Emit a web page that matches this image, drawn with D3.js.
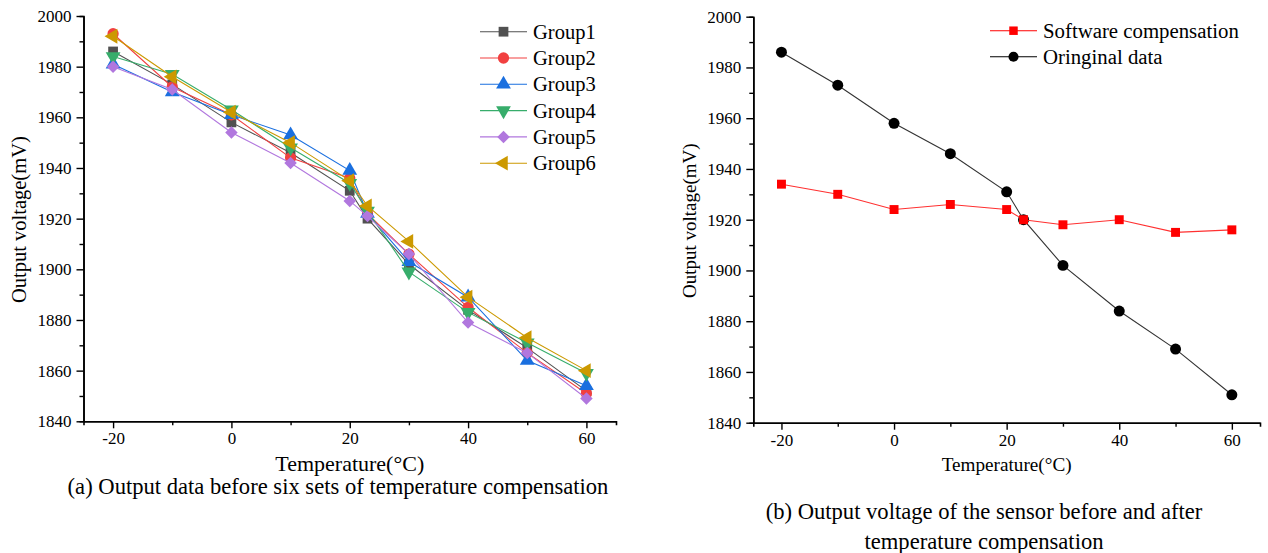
<!DOCTYPE html>
<html lang="en">
<head>
    <meta charset="UTF-8">
    <title>Temperature compensation</title>
    <script src="https://d3js.org/d3.v7.min.js"></script>
    <style>
        body { margin: 0; background: #fff; }
        svg text { font-family: "Liberation Serif", "Times New Roman", serif; fill: #000; }
    </style>
</head>
<body>

<svg id="chart" width="1268" height="553"></svg>

<script>
    // temperatures (x values), shared by both panels
    const temps = [-20, -10, 0, 10, 20, 23, 30, 40, 50, 60];

    // panel (a): six groups
    const group1 = [1986, 1973, 1958, 1946, 1931, 1920, 1902, 1884, 1869, 1852];
    const group2 = [1993, 1972, 1961, 1944, 1936, 1922, 1906, 1885, 1867, 1851];
    const group3 = [1981, 1970, 1961, 1953, 1939, 1922, 1903, 1889, 1864, 1854];
    const group4 = [1984, 1977, 1963, 1948, 1934, 1923, 1899, 1883, 1871, 1859];
    const group5 = [1980, 1971, 1954, 1942, 1927, 1921, 1906, 1879, 1867, 1849];
    const group6 = [1992, 1976, 1962, 1950, 1935, 1925, 1911, 1889, 1873, 1860];
    const groupNames = ["Group1", "Group2", "Group3", "Group4", "Group5", "Group6"];

    // panel (b)
    const compensated = [1934, 1930, 1924, 1926, 1924, 1920, 1918, 1920, 1915, 1916];
    const original    = [1986, 1973, 1958, 1946, 1931, 1920, 1902, 1884, 1869, 1851];
    const seriesNamesB = ["Software compensation", "Oringinal data"];

    // tick labels
    const xTicks = [-20, 0, 20, 40, 60];
    const xMinor = [-10, 10, 30, 50];
    const yTicks = [1840, 1860, 1880, 1900, 1920, 1940, 1960, 1980, 2000];
    const yMinor = [1850, 1870, 1890, 1910, 1930, 1950, 1970, 1990];

    const svg = d3.select("#chart");

    // plain integer labels with an ascii hyphen, like the original
    const fmt = d => String(d);

    // marker shapes (Origin style)
    const shapes = {
        square:   { type: d3.symbolSquare,   rot: 0 },
        circle:   { type: d3.symbolCircle,   rot: 0 },
        up:       { type: d3.symbolTriangle, rot: 0 },
        down:     { type: d3.symbolTriangle, rot: 180 },
        diamond:  { type: d3.symbolSquare,   rot: 45 },
        left:     { type: d3.symbolTriangle, rot: -90 }
    };

    function marker(g, shape, size, color, x, y) {
        const s = shapes[shape];
        g.append("path")
            .attr("d", d3.symbol().type(s.type).size(size)())
            .attr("transform", `translate(${x},${y}) rotate(${s.rot})`)
            .attr("fill", color);
    }

    // draws axes of one panel and returns its scales
    function drawAxes(cfg) {
        const x = d3.scaleLinear().domain([-25, 65]).range([cfg.x0, cfg.x1]);
        const y = d3.scaleLinear().domain([1840, 2000]).range([cfg.y0, cfg.y1]);

        const g = svg.append("g");

        // minor ticks first
        g.append("g")
            .attr("transform", `translate(0,${cfg.y0})`)
            .call(d3.axisBottom(x).tickValues(xMinor).tickSize(4).tickFormat(""));
        g.append("g")
            .attr("transform", `translate(${cfg.x0},0)`)
            .call(d3.axisLeft(y).tickValues(yMinor).tickSize(4).tickFormat(""));

        g.append("g")
            .attr("transform", `translate(0,${cfg.y0})`)
            .call(d3.axisBottom(x).tickValues(xTicks).tickFormat(fmt)
                .tickSize(7).tickPadding(4).tickSizeOuter(0));
        g.append("g")
            .attr("transform", `translate(${cfg.x0},0)`)
            .call(d3.axisLeft(y).tickValues(yTicks).tickFormat(fmt)
                .tickSize(7).tickPadding(5).tickSizeOuter(0));

        g.selectAll("g").attr("font-family", '"Liberation Serif", "Times New Roman", serif');
        g.selectAll(".domain").attr("stroke", "#000").attr("stroke-width", 1.6);
        g.selectAll(".tick line").attr("stroke", "#000").attr("stroke-width", 1.4);
        g.selectAll(".tick text").style("font-size", "17px");

        // axis titles
        svg.append("text")
            .attr("x", (cfg.x0 + cfg.x1) / 2)
            .attr("y", cfg.xTitleY)
            .attr("text-anchor", "middle")
            .style("font-size", cfg.xTitleSize + "px")
            .text("Temperature(\u00B0C)");

        svg.append("text")
            .attr("transform", `translate(${cfg.yTitleX},${(cfg.y0 + cfg.y1) / 2 + 1}) rotate(-90)`)
            .attr("text-anchor", "middle")
            .style("font-size", cfg.yTitleSize + "px")
            .text("Output voltage(mV)");

        return { x, y };
    }

    function drawSeries(sc, values, lineColor, color, shape, size) {
        const pts = temps.map((t, i) => [t, values[i]]);
        const line = d3.line().x(d => sc.x(d[0])).y(d => sc.y(d[1]));
        const g = svg.append("g");
        g.append("path")
            .attr("d", line(pts))
            .attr("fill", "none")
            .attr("stroke", lineColor)
            .attr("stroke-width", 1.1);
        pts.forEach(d => marker(g, shape, size, color, sc.x(d[0]), sc.y(d[1])));
    }

    // ---------------- panel (a) ----------------
    const scA = drawAxes({ x0: 83.5, x1: 616, y0: 421.3, y1: 16, xTitleY: 471,
                           yTitleX: 26, xTitleSize: 22, yTitleSize: 20.5 });

    const groupsA = [group1, group2, group3, group4, group5, group6];
    const colorsA = ["#515151", "#F14040", "#1A6FDF", "#37AD6B", "#B177DE", "#CC9900"];
    const shapesA = ["square", "circle", "up", "down", "diamond", "left"];
    const sizesA  = [95, 100, 95, 95, 78, 95];

    groupsA.forEach((vals, i) => drawSeries(scA, vals, colorsA[i], colorsA[i], shapesA[i], sizesA[i]));

    // legend (a)
    const legA = svg.append("g");
    groupNames.forEach((name, i) => {
        const ly = 31.7 + i * 26.3;
        legA.append("line")
            .attr("x1", 480).attr("x2", 527).attr("y1", ly).attr("y2", ly)
            .attr("stroke", colorsA[i]).attr("stroke-width", 1.1);
        marker(legA, shapesA[i], sizesA[i], colorsA[i], 503.5, ly);
        legA.append("text")
            .attr("x", 533).attr("y", ly).attr("dy", "0.35em")
            .style("font-size", "20.5px")
            .text(name);
    });

    // ---------------- panel (b) ----------------
    const scB = drawAxes({ x0: 753.3, x1: 1260, y0: 422.7, y1: 16.7, xTitleY: 471,
                           yTitleX: 696, xTitleSize: 19.2, yTitleSize: 19 });

    drawSeries(scB, original, "#333", "#000", "circle", 95);
    drawSeries(scB, compensated, "#FF3030", "#FF0000", "square", 80);

    const colorsB = ["#FF0000", "#000"];
    const shapesB = ["square", "circle"];
    const legB = svg.append("g");
    seriesNamesB.forEach((name, i) => {
        const ly = 30.7 + i * 26;
        legB.append("line")
            .attr("x1", 990).attr("x2", 1037).attr("y1", ly).attr("y2", ly)
            .attr("stroke", colorsB[i]).attr("stroke-width", 1.1);
        marker(legB, shapesB[i], i === 0 ? 72 : 80, colorsB[i], 1013.5, ly);
        legB.append("text")
            .attr("x", 1043).attr("y", ly).attr("dy", "0.35em")
            .style("font-size", "20.8px")
            .text(name);
    });

    // ---------------- captions ----------------
    svg.append("text")
        .attr("x", 338).attr("y", 494)
        .attr("text-anchor", "middle")
        .style("font-size", "22.6px")
        .text("(a) Output data before six sets of temperature compensation");

    svg.append("text")
        .attr("x", 984).attr("y", 519)
        .attr("text-anchor", "middle")
        .style("font-size", "22.6px")
        .text("(b) Output voltage of the sensor before and after");

    svg.append("text")
        .attr("x", 984).attr("y", 549)
        .attr("text-anchor", "middle")
        .style("font-size", "22.6px")
        .text("temperature compensation");
</script>

</body>
</html>
